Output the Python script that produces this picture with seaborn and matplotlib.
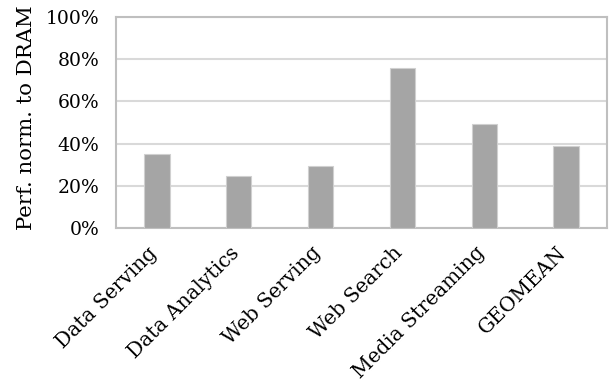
import matplotlib
matplotlib.use("Agg")
import matplotlib.pyplot as plt
import matplotlib.transforms as mtransforms
import seaborn as sns
import pandas as pd
from matplotlib.ticker import FuncFormatter

categories = ["Data Serving", "Data Analytics", "Web Serving", "Web Search", "Media Streaming", "GEOMEAN"]
values = [35.0, 24.5, 29.5, 76.0, 49.5, 39.0]
yticks = [0, 20, 40, 60, 80, 100]

sns.set_theme(style="white")
plt.rcParams['font.family'] = ['DejaVu Serif']

df = pd.DataFrame({"cat": categories, "val": values})

fig = plt.figure(figsize=(6.13, 3.90), dpi=100)
ax = fig.add_axes([116/613, 1-228/390, (607-116)/613, (228-17)/390])
sns.barplot(data=df, x="cat", y="val", color="#a5a5a5", saturation=1, width=0.31,
            edgecolor="#d0d0d0", linewidth=0.8, ax=ax, zorder=3)
ax.set_ylim(0, 100)
ax.set_xlim(-0.5, len(categories) - 0.5)
ax.set_yticks(yticks)
ax.yaxis.set_major_formatter(FuncFormatter(lambda v, p: f"{int(v)}%"))
ax.grid(axis="y", color="#d9d9d9", linewidth=1.5, zorder=0)
ax.set_axisbelow(True)
for s in ax.spines.values():
    s.set_color("#bfbfbf")
    s.set_linewidth(1.5)
ax.tick_params(axis="y", length=0, labelsize=13.5, colors="black", pad=12)
ax.tick_params(axis="x", length=0, labelsize=14.5, colors="black", pad=11)
ax.set_xlabel("")
ax.set_ylabel("Perf. norm. to DRAM", fontsize=15.3, color="black")
ax.yaxis.set_label_coords(-0.163, 0.525)
offset = mtransforms.ScaledTranslation(4/100, 0, fig.dpi_scale_trans)
for lab in ax.get_xticklabels():
    lab.set_rotation(45)
    lab.set_ha("right")
    lab.set_va("top")
    lab.set_transform(lab.get_transform() + offset)
fig.savefig("out.png", dpi=100)
